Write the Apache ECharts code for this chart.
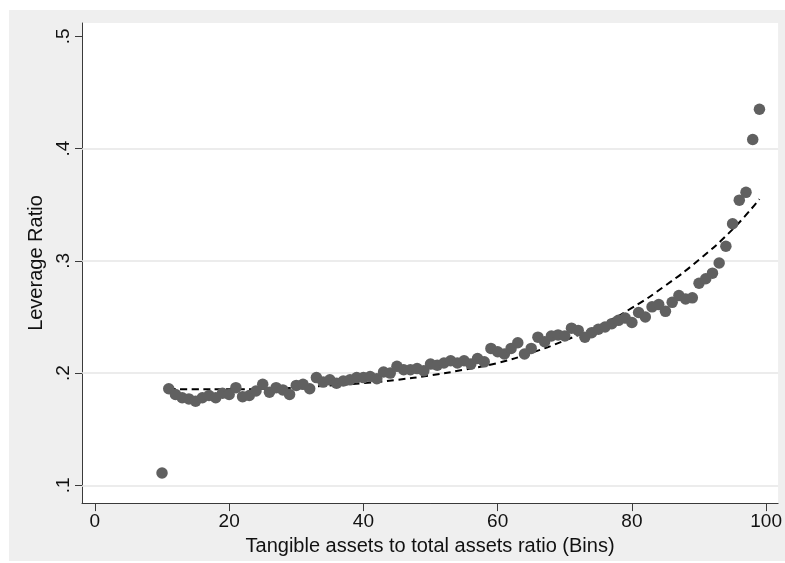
<!DOCTYPE html>
<html lang="en">
<head>
    <meta charset="UTF-8">
    <title>Leverage Ratio</title>
    <script src="https://cdn.jsdelivr.net/npm/echarts@6/dist/echarts.min.js"></script>
    <style>
        body { margin: 0; background: #ffffff; }
        #main { position: absolute; left: 9px; top: 10px; width: 776px; height: 551px; }
    </style>
</head>
<body>
<div id="main"></div>

<script type="text/javascript">
    // bins (x) and binned leverage ratio (y)
    var bins = [10, 11, 12, 13, 14, 15, 16, 17, 18, 19, 20, 21, 22, 23, 24, 25, 26, 27, 28, 29,
        30, 31, 32, 33, 34, 35, 36, 37, 38, 39, 40, 41, 42, 43, 44, 45, 46, 47, 48, 49,
        50, 51, 52, 53, 54, 55, 56, 57, 58, 59, 60, 61, 62, 63, 64, 65, 66, 67, 68, 69,
        70, 71, 72, 73, 74, 75, 76, 77, 78, 79, 80, 81, 82, 83, 84, 85, 86, 87, 88, 89,
        90, 91, 92, 93, 94, 95, 96, 97, 98, 99];
    var leverage = [0.111, 0.186, 0.181, 0.178, 0.177, 0.175, 0.178, 0.180, 0.178, 0.182,
        0.181, 0.187, 0.179, 0.180, 0.184, 0.190, 0.183, 0.187, 0.185, 0.181,
        0.189, 0.190, 0.186, 0.196, 0.192, 0.194, 0.191, 0.193, 0.194, 0.196,
        0.196, 0.197, 0.195, 0.201, 0.200, 0.206, 0.203, 0.203, 0.204, 0.202,
        0.208, 0.207, 0.209, 0.211, 0.209, 0.211, 0.208, 0.213, 0.210, 0.222,
        0.219, 0.217, 0.222, 0.227, 0.217, 0.222, 0.232, 0.228, 0.233, 0.234,
        0.233, 0.240, 0.238, 0.232, 0.236, 0.239, 0.241, 0.244, 0.247, 0.249,
        0.245, 0.254, 0.250, 0.259, 0.261, 0.255, 0.263, 0.269, 0.266, 0.267,
        0.280, 0.284, 0.289, 0.298, 0.313, 0.333, 0.354, 0.361, 0.408, 0.435];

    // fitted curve
    var fitX = [11, 15, 20, 25, 30, 35, 40, 45, 50, 55, 60, 65, 70, 75, 80, 85, 90, 95, 99];
    var fitY = [0.186, 0.1855, 0.1855, 0.186, 0.187, 0.189, 0.191, 0.194, 0.198, 0.203,
        0.209, 0.218, 0.229, 0.242, 0.258, 0.278, 0.301, 0.328, 0.355];

    var xTicks = [0, 20, 40, 60, 80, 100];
    var yTicks = [0.1, 0.2, 0.3, 0.4, 0.5];
    var yGrid = [0.1, 0.2, 0.3, 0.4];

    var pts = bins.map(function (b, i) { return [b, leverage[i]]; });
    var fit = fitX.map(function (b, i) { return [b, fitY[i]]; });

    var myChart = echarts.init(document.getElementById('main'));
    var font = '"Liberation Sans", Arial, sans-serif';
    var axisColor = '#3a3a3a';

    myChart.setOption({
        backgroundColor: '#efefef',
        animation: false,
        grid: {
            left: 73, right: 2, top: 13, bottom: 50,
            show: true, backgroundColor: '#ffffff', borderWidth: 0
        },
        xAxis: {
            type: 'value',
            min: -1.923, max: 101.78,
            name: 'Tangible assets to total assets ratio (Bins)',
            nameLocation: 'middle',
            nameGap: 29,
            nameTextStyle: { fontFamily: font, fontSize: 20, color: '#111' },
            axisLine: { show: true, onZero: false, lineStyle: { color: axisColor, width: 1 } },
            axisTick: { show: true, length: 8, customValues: xTicks, lineStyle: { color: axisColor } },
            axisLabel: { customValues: xTicks, margin: 9, fontFamily: font, fontSize: 19, color: '#111' },
            splitLine: { show: false }
        },
        yAxis: {
            type: 'value',
            min: 0.0842, max: 0.5118,
            name: 'Leverage Ratio',
            nameLocation: 'middle',
            nameGap: 35,
            nameTextStyle: { fontFamily: font, fontSize: 20, color: '#111' },
            axisLine: { show: true, onZero: false, lineStyle: { color: axisColor, width: 1 } },
            axisTick: { show: true, length: 7, customValues: yTicks, lineStyle: { color: axisColor } },
            axisLabel: {
                customValues: yTicks, rotate: 90, margin: 9,
                fontFamily: font, fontSize: 19, color: '#111',
                formatter: function (v) { return String(Math.round(v * 10) / 10).replace(/^0/, ''); }
            },
            splitLine: { show: false }
        },
        series: [{
            name: 'fit',
            type: 'line',
            data: fit,
            smooth: true,
            symbol: 'none',
            z: 2,
            lineStyle: { color: '#000000', width: 2, type: [7, 4.5] },
            markLine: {
                silent: true,
                z: 1,
                symbol: 'none',
                label: { show: false },
                lineStyle: { color: '#e6e6e6', width: 1.5, type: 'solid' },
                data: yGrid.map(function (v) { return { yAxis: v }; })
            }
        }, {
            name: 'leverage',
            type: 'scatter',
            data: pts,
            symbolSize: 11.5,
            z: 5,
            itemStyle: { color: '#606060', opacity: 1 }
        }]
    });
</script>
</body>
</html>
